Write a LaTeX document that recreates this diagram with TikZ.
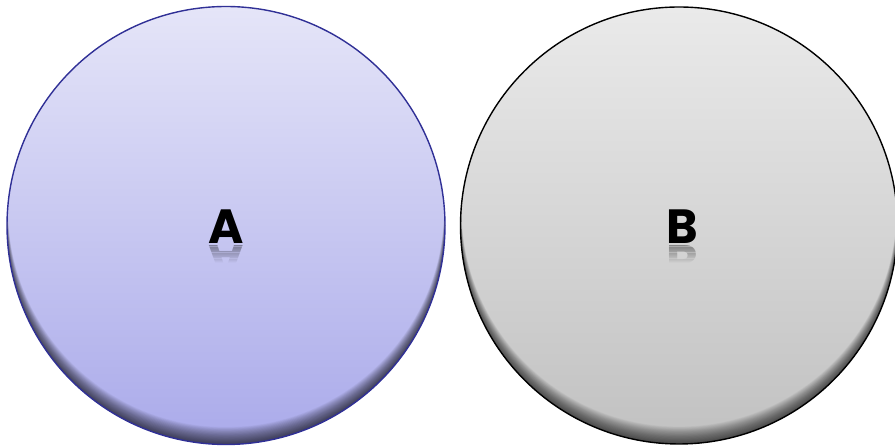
\documentclass[tikz,border=0pt]{standalone}
\usepackage{fontspec}
\newfontfamily\lblfont{Poppins}
\usetikzlibrary{calc}
\definecolor{atop}{RGB}{229,229,248}
\definecolor{abot}{RGB}{170,170,234}
\definecolor{aedge}{RGB}{48,48,150}
\definecolor{btop}{RGB}{234,234,234}
\definecolor{bbot}{RGB}{193,193,193}
\tikzset{
  disc/.style={top color=#1top, bottom color=#1bot},
  lbl/.style={font=\lblfont\bfseries\fontsize{48}{48}\selectfont, anchor=base, inner sep=0pt, text=black},
}
\newcommand\innershade[2]{% center, radius
  \begin{scope}
    \clip #1 circle (#2);
    \foreach \d in {1,...,30}{
      \fill[black, opacity=0.026, even odd rule] #1 circle (#2+10) ($#1+(0,\d*0.55)$) circle (#2-0.03*\d);
    }
  \end{scope}}
\newcommand\reflectlbl[2]{% position, letter
  \foreach \i in {0,...,15}{
    \pgfmathsetmacro\o{0.22*(1-\i/16)}
    \begin{scope}
      \clip ($#1+(-40,-1.2*\i-1.25)$) rectangle ($#1+(40,-1.2*\i)$);
      \node[lbl, yscale=-1, transform shape, opacity=\o] at ($#1+(0,-2)$) {#2};
    \end{scope}}}
\begin{document}
\begin{tikzpicture}[x=1pt,y=1pt]
\useasboundingbox (0,0) rectangle (895,446);
% circle A
\path[disc=a] (226,220.5) circle (219);
\innershade{(226,220.5)}{219}
\draw[aedge, line width=1.4pt] (226,220.5) circle (219) node[coordinate] (ca) {};
% circle B
\path[disc=b] (679,220.5) circle (218.5);
\innershade{(679,220.5)}{218.5}
\draw[black, line width=1.4pt] (679,220.5) circle (218.5) node[coordinate] (cb) {};
% labels
\node[lbl] (la) at (226,202.5) {A};
\reflectlbl{(226,202.5)}{A}
\node[lbl] (lb) at (682,202.5) {B};
\reflectlbl{(682,202.5)}{B}
\end{tikzpicture}
\end{document}
